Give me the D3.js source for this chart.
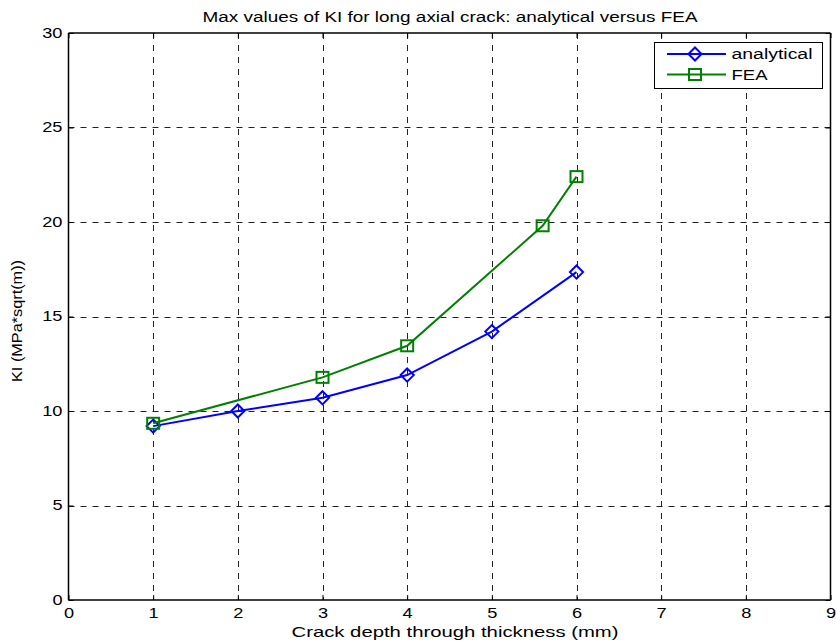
<!DOCTYPE html>
<html><head><meta charset="utf-8">
<script src="https://cdn.jsdelivr.net/npm/d3@7"></script>
<style>body{margin:0;background:#fff}svg{display:block}text{font-family:"Liberation Sans",Arial,sans-serif;fill:#000}</style>
</head><body>
<script>
const analyticalX = [1, 2, 3, 4, 5, 6];
const analyticalY = [9.2, 10.0, 10.7, 11.9, 14.2, 17.35];
const feaX = [1, 3, 4, 5.6, 6];
const feaY = [9.35, 11.78, 13.45, 19.8, 22.4];
const xTicks = [0,1,2,3,4,5,6,7,8,9];
const yTicks = [0,5,10,15,20,25,30];
const seriesNames = ["analytical", "FEA"];

const W = 836, H = 643;
const L = 68.5, R = 830.5, T = 33, B = 600;
const STRETCH = 1.3;
const svg = d3.select("body").append("svg").attr("width", W).attr("height", H);
const x = d3.scaleLinear().domain([0, 9]).range([L, R]);
const y = d3.scaleLinear().domain([0, 30]).range([B, T]);

function stretch(sel, len){
  sel.each(function(){
    const l = len || this.getComputedTextLength() * STRETCH;
    d3.select(this).attr("textLength", l).attr("lengthAdjust", "spacingAndGlyphs");
  });
}

// grid
const g = svg.append("g");
g.selectAll(".vg").data(xTicks.slice(1, -1)).join("line")
  .attr("x1", d => Math.round(x(d)) + 0.5).attr("x2", d => Math.round(x(d)) + 0.5)
  .attr("y1", T).attr("y2", B)
  .attr("stroke", "#222").attr("stroke-width", 1).attr("stroke-dasharray", "6,6");
g.selectAll(".hg").data(yTicks.slice(1, -1)).join("line")
  .attr("y1", d => Math.round(y(d)) + 0.5).attr("y2", d => Math.round(y(d)) + 0.5)
  .attr("x1", L).attr("x2", R)
  .attr("stroke", "#222").attr("stroke-width", 1).attr("stroke-dasharray", "6,6");

// axes
const xAxis = d3.axisBottom(x).tickValues(xTicks).tickSize(-5).tickPadding(8).tickFormat(d3.format("d"));
const xAxisTop = d3.axisTop(x).tickValues(xTicks).tickSize(-5).tickFormat("");
const yAxis = d3.axisLeft(y).tickValues(yTicks).tickSize(-5).tickPadding(6).tickFormat(d3.format("d"));
const yAxisR = d3.axisRight(y).tickValues(yTicks).tickSize(-5).tickFormat("");
function style(sel){ sel.selectAll("path").attr("stroke","#000").attr("stroke-width",1.5); sel.selectAll("line").attr("stroke","#000"); sel.selectAll("text").attr("font-size",14).attr("font-family","Liberation Sans, Arial, sans-serif").attr("fill","#000").call(stretch); }
svg.append("g").attr("transform", `translate(0,${B})`).call(xAxis).call(style).call(s=>s.select(".domain").attr("d",`M${L},0H${R}`));
svg.append("g").attr("transform", `translate(0,${T})`).call(xAxisTop).call(style).call(s=>s.select(".domain").attr("d",`M${L},0H${R}`));
svg.append("g").attr("transform", `translate(${L},0)`).call(yAxis).call(style).call(s=>s.select(".domain").attr("d",`M0,${T}V${B}`));
svg.append("g").attr("transform", `translate(${R},0)`).call(yAxisR).call(style).call(s=>s.select(".domain").attr("d",`M0,${T}V${B}`));

// lines
const series = [
  {name: seriesNames[0], xs: analyticalX, ys: analyticalY, color: "#0000ff", marker: "diamond"},
  {name: seriesNames[1], xs: feaX, ys: feaY, color: "#008000", marker: "square"}
];
const line = d3.line().x(d => x(d[0])).y(d => y(d[1]));
function drawMarker(sel, type, color){
  if (type === "diamond") {
    sel.append("path").attr("d", d3.symbol(d3.symbolDiamond2, 110)()).attr("fill","none").attr("stroke",color).attr("stroke-width",2);
  } else {
    sel.append("rect").attr("x",-6).attr("y",-5.5).attr("width",12).attr("height",11).attr("fill","none").attr("stroke",color).attr("stroke-width",2);
  }
}
series.forEach(s => {
  const pts = s.xs.map((v, i) => [v, s.ys[i]]);
  svg.append("path").attr("d", line(pts)).attr("fill","none").attr("stroke", s.color).attr("stroke-width", 2);
  pts.forEach(p => {
    const m = svg.append("g").attr("transform", `translate(${x(p[0])},${y(p[1])})`);
    drawMarker(m, s.marker, s.color);
  });
});

// legend
const lg = svg.append("g");
lg.append("rect").attr("x", 654.5).attr("y", 42.5).attr("width", 168).attr("height", 46).attr("fill","#fff").attr("stroke","#000").attr("stroke-width",1);
const legendLens = [81, 36];
series.forEach((s, i) => {
  const cy = 54 + i * 20.5;
  lg.append("line").attr("x1", 667).attr("x2", 726).attr("y1", cy).attr("y2", cy).attr("stroke", s.color).attr("stroke-width", 2);
  const m = lg.append("g").attr("transform", `translate(695,${cy})`);
  drawMarker(m, s.marker, s.color);
  lg.append("text").attr("x", 731.5).attr("y", cy + 5).attr("font-size", 14).text(s.name).call(stretch, legendLens[i]);
});

// titles
svg.append("text").attr("x", 450).attr("y", 21.5).attr("text-anchor","middle").attr("font-size", 14)
  .text("Max values of KI for long axial crack: analytical versus FEA").call(stretch, 495);
svg.append("text").attr("x", 455).attr("y", 637).attr("text-anchor","middle").attr("font-size", 15)
  .text("Crack depth through thickness (mm)").call(stretch, 327);
svg.append("text").attr("transform", `translate(22,321) rotate(-90)`).attr("text-anchor","middle").attr("font-size", 14)
  .text("KI (MPa*sqrt(m))").call(stretch, 122);
</script>
</body></html>
